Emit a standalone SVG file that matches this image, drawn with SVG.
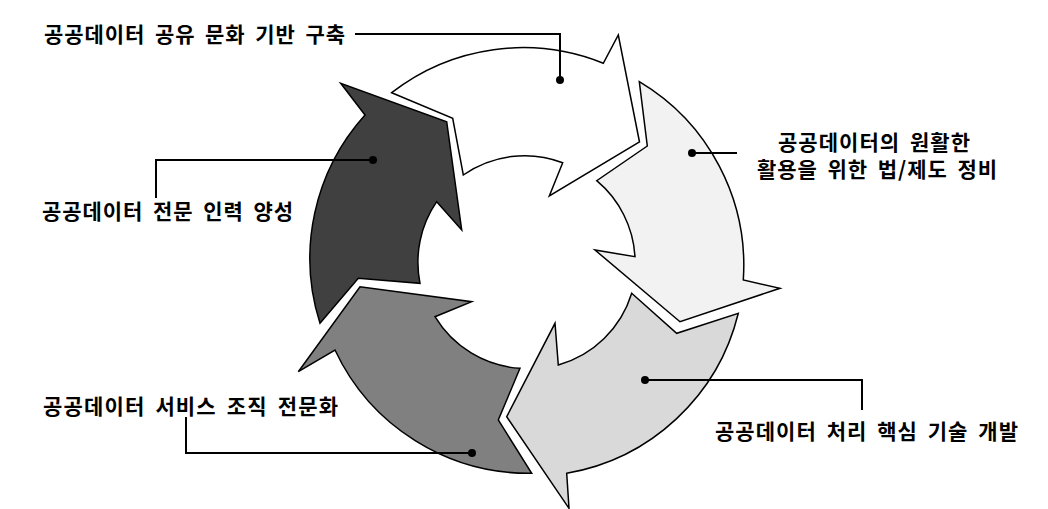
<svg xmlns="http://www.w3.org/2000/svg" width="1048" height="509" viewBox="0 0 1048 509">
<style>
.arrow{stroke:#000;stroke-width:1.5;stroke-linejoin:miter}
.lbl{font-family:"Noto Sans CJK KR","Noto Sans",sans-serif;font-weight:bold;font-size:21px;word-spacing:4px;fill:#000;dominant-baseline:central}
.con{fill:none;stroke:#000;stroke-width:2}
.dot{fill:#000}
</style>
<rect width="1048" height="509" fill="#fff"/>
<g id="arrow-share">
<path class="arrow" fill="#ffffff" d="M391.7,92.7 A214,214 0 0 1 603.3,63.3 L618.3,35 L639.5,142 L549.3,196 L562.7,162.7 A107,107 0 0 0 463.3,175 L452.7,118.3 Z"/>
</g>
<g id="arrow-law">
<path class="arrow" fill="#f2f2f2" d="M639.3,81.7 A214,214 0 0 1 743.3,280 L780,288.3 L680,321.7 L595,250 L635,256.7 A107,107 0 0 0 596.7,180.7 L647.3,146 Z"/>
</g>
<g id="arrow-tech">
<path class="arrow" fill="#d9d9d9" d="M738.3,313.3 A214,214 0 0 1 566.7,473.3 L569,508.3 L506.7,416.7 L555,323.3 L558.3,365 A107,107 0 0 0 631.7,293.3 L676.7,333.3 Z"/>
</g>
<g id="arrow-service">
<path class="arrow" fill="#808080" d="M531.7,473.3 A214,214 0 0 1 335,350 L298.3,371.7 L360,286.7 L471.7,301.7 L435,316.7 A107,107 0 0 0 520,368.3 L498.3,420 Z"/>
</g>
<g id="arrow-people">
<path class="arrow" fill="#404040" d="M320,323.3 A214,214 0 0 1 365,115 L340.7,83.3 L446.7,121.7 L461.7,230 L436.7,201.7 A107,107 0 0 0 420,283.3 L358.3,278.3 Z"/>
</g>
<g id="connectors">
<polyline class="con" points="355,34 560,34 560,80"/>
<circle class="dot" cx="560" cy="80" r="4"/>
<polyline class="con" points="692,153 737,153"/>
<circle class="dot" cx="692" cy="153" r="4"/>
<polyline class="con" points="645,380 862,380 862,410"/>
<circle class="dot" cx="645" cy="380" r="4"/>
<polyline class="con" points="186,417 186,453 472,453"/>
<circle class="dot" cx="472" cy="453" r="4"/>
<polyline class="con" points="156,198 156,160 373,160"/>
<circle class="dot" cx="373" cy="160" r="4"/>
</g>
<g id="label-share"><text class="lbl" x="44" y="33" textLength="301" lengthAdjust="spacing">공공데이터 공유 문화 기반 구축</text></g>
<g id="label-law"><text class="lbl" x="874" y="141" text-anchor="middle" textLength="192" lengthAdjust="spacing">공공데이터의 원활한</text><text class="lbl" x="877" y="168" text-anchor="middle" textLength="240" lengthAdjust="spacing">활용을 위한 법/제도 정비</text></g>
<g id="label-tech"><text class="lbl" x="715" y="430" textLength="303" lengthAdjust="spacing">공공데이터 처리 핵심 기술 개발</text></g>
<g id="label-service"><text class="lbl" x="43" y="405" textLength="295" lengthAdjust="spacing">공공데이터 서비스 조직 전문화</text></g>
<g id="label-people"><text class="lbl" x="42" y="210" textLength="251" lengthAdjust="spacing">공공데이터 전문 인력 양성</text></g>
</svg>
